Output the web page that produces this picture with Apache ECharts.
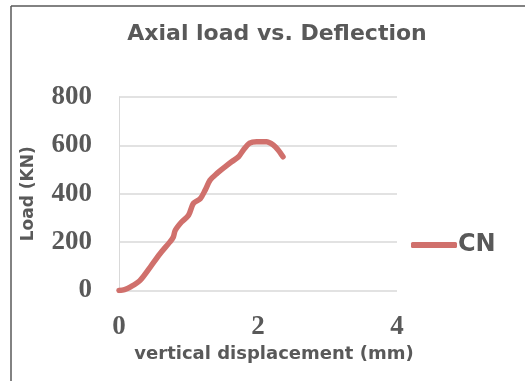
<!DOCTYPE html>
<html>
<head>
<meta charset="utf-8">
<script src="https://cdn.jsdelivr.net/npm/echarts@6/dist/echarts.min.js"></script>
<style>html,body{margin:0;padding:0;background:#fff;}#c{width:525px;height:381px;}</style>
</head>
<body>
<div id="c"></div>
<script>
var titleText = 'Axial load vs. Deflection';
var xName = 'vertical displacement (mm)';
var yName = 'Load (KN)';
var seriesName = 'CN';
var xTicks = [0, 2, 4];
var yTicks = [0, 200, 400, 600, 800];
var displacement = [0, 0.08, 0.16, 0.30, 0.45, 0.59, 0.73, 0.78, 0.81, 0.90, 1.00, 1.07, 1.17, 1.24, 1.31, 1.41, 1.53, 1.62, 1.72, 1.79, 1.88, 1.98, 2.12, 2.22, 2.29, 2.36];
var load = [0, 4, 14, 41, 97, 152, 200, 220, 249, 283, 311, 360, 380, 415, 456, 484, 512, 532, 553, 581, 609, 615, 615, 602, 581, 553];

var data = displacement.map(function (d, i) { return [d, load[i]]; });
var txt = '#595959';
var sans = 'DejaVu Sans';
var serif = "'Liberation Serif', 'Times New Roman', serif";
var lineColor = '#d0706c';
var chart = echarts.init(document.getElementById('c'), null, {renderer: 'canvas'});
chart.setOption({
  animation: false,
  backgroundColor: '#fff',
  title: {
    text: titleText, left: 277, top: 23, padding: 0, textAlign: 'center',
    textStyle: {fontFamily: sans, fontWeight: 'bold', fontSize: 22, color: txt}
  },
  legend: {
    show: true, orient: 'horizontal', left: 411, top: 233, padding: 0,
    icon: 'roundRect', itemWidth: 46, itemHeight: 6, itemGap: 0,
    data: [seriesName],
    itemStyle: {color: lineColor},
    textStyle: {fontFamily: sans, fontWeight: 'bold', fontSize: 24, color: txt, padding: [0, 0, 0, -4]}
  },
  grid: {left: 119, right: 128, top: 97, bottom: 90.5, containLabel: false},
  xAxis: {
    type: 'value', min: xTicks[0], max: xTicks[xTicks.length - 1], interval: 2,
    axisLine: {show: false}, axisTick: {show: false}, splitLine: {show: false},
    axisLabel: {margin: 23, fontFamily: serif, fontWeight: 'bold', fontSize: 27, color: txt},
    name: xName, nameLocation: 'middle', nameGap: 51,
    nameTextStyle: {fontFamily: sans, fontWeight: 'bold', fontSize: 18, color: txt, padding: [0, 0, 0, 32]}
  },
  yAxis: {
    type: 'value', min: yTicks[0], max: yTicks[yTicks.length - 1], interval: 200,
    axisLine: {show: true, lineStyle: {color: '#d9d9d9', width: 1}}, axisTick: {show: false},
    splitLine: {show: true, lineStyle: {color: '#d9d9d9', width: 1.5}},
    axisLabel: {margin: 27, fontFamily: serif, fontWeight: 'bold', fontSize: 27, color: txt},
    name: yName, nameLocation: 'middle', nameGap: 82, nameRotate: 90,
    nameTextStyle: {fontFamily: sans, fontWeight: 'bold', fontSize: 17, color: txt}
  },
  series: [{
    name: seriesName, type: 'line', data: data, showSymbol: false, symbol: 'none', smooth: 0.3,
    lineStyle: {color: lineColor, width: 5.5, cap: 'round', join: 'round'},
    itemStyle: {color: lineColor}
  }],
  graphic: [
    {type: 'line', shape: {x1: 11, y1: 6, x2: 525, y2: 6}, style: {stroke: '#595959', lineWidth: 1.5}},
    {type: 'line', shape: {x1: 11, y1: 6, x2: 11, y2: 381}, style: {stroke: '#595959', lineWidth: 1.5}}
  ]
});
</script>
</body>
</html>
